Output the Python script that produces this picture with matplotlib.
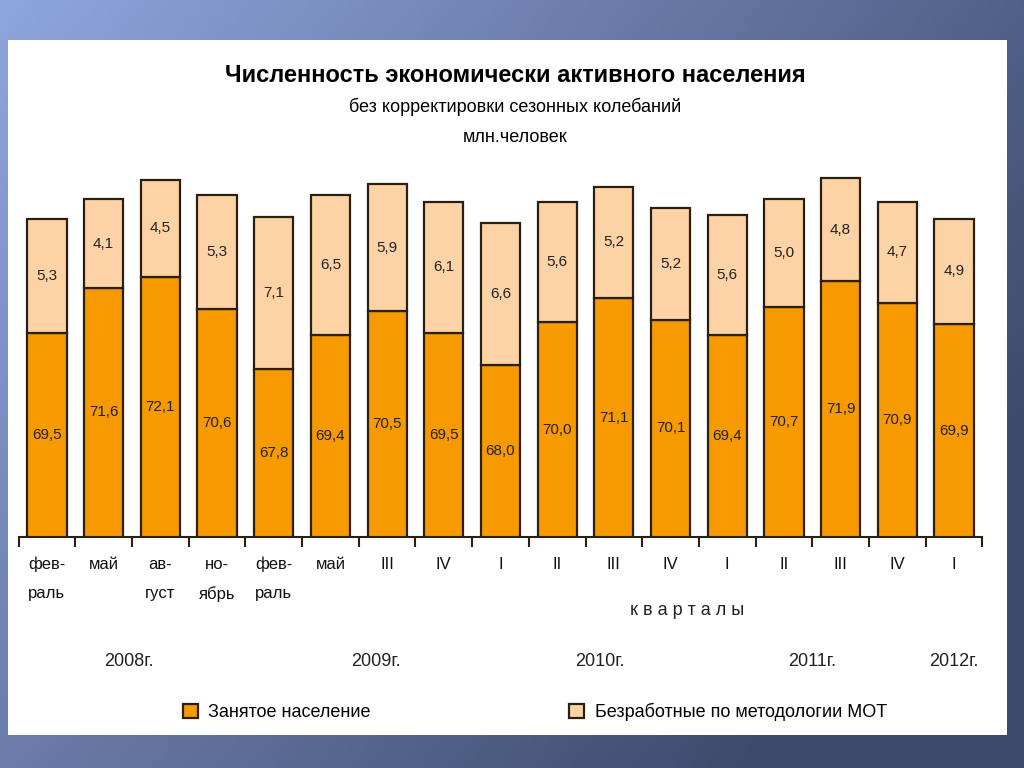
import numpy as np
import matplotlib.pyplot as plt
from matplotlib.patches import Rectangle

plt.rcParams['font.family'] = ['Liberation Sans Narrow', 'Liberation Sans', 'DejaVu Sans']

# data
labels_top = ['фев-', 'май', 'ав-', 'но-', 'фев-', 'май', 'III', 'IV', 'I',
              'II', 'III', 'IV', 'I', 'II', 'III', 'IV', 'I']
labels_bot = ['раль', '', 'густ', 'ябрь', 'раль', '', '', '', '',
              '', '', '', '', '', '', '', '']
employed = [69.5, 71.6, 72.1, 70.6, 67.8, 69.4, 70.5, 69.5, 68.0,
            70.0, 71.1, 70.1, 69.4, 70.7, 71.9, 70.9, 69.9]
unemployed = [5.3, 4.1, 4.5, 5.3, 7.1, 6.5, 5.9, 6.1, 6.6,
              5.6, 5.2, 5.2, 5.6, 5.0, 4.8, 4.7, 4.9]
years = ['2008г.', '2009г.', '2010г.', '2011г.', '2012г.']
year_pos = [1.45, 5.8, 9.75, 13.5, 16.0]

W, H = 1024, 768
fig = plt.figure(figsize=(W / 100, H / 100), dpi=100)

# slide background gradient
bg = fig.add_axes([0, 0, 1, 1])
yy, xx = np.mgrid[0:1:200j, 0:1:200j]
t = np.clip(0.75 * xx + 0.45 * yy, 0, 1)
c0 = np.array([0.56, 0.65, 0.87])
c1 = np.array([0.24, 0.29, 0.42])
img = c0[None, None, :] * (1 - t[..., None]) + c1[None, None, :] * t[..., None]
bg.imshow(img, extent=[0, 1, 0, 1], origin='upper', aspect='auto')
bg.set_xlim(0, 1)
bg.set_ylim(0, 1)
bg.axis('off')

# white panel
fig.patches.append(Rectangle((8 / W, 1 - 735 / H), 999 / W, 695 / H,
                             transform=fig.transFigure, facecolor='white',
                             edgecolor='none', zorder=1))

orange = '#F79A00'
peach = '#FDD3A6'
edge = '#2b2010'

x0, x1 = 18.6, 982.4
ytop, ybot = 171.5, 537
ax = fig.add_axes([x0 / W, 1 - ybot / H, (x1 - x0) / W, (ybot - ytop) / H])
ax.set_zorder(2)
ax.patch.set_alpha(0)

x = np.arange(len(employed))
emp = np.array(employed)
une = np.array(unemployed)
ax.bar(x, emp, width=0.69, color=orange, edgecolor=edge, linewidth=1.6,
       label='Занятое население')
ax.bar(x, une, bottom=emp, width=0.69, color=peach, edgecolor=edge,
       linewidth=1.6, label='Безработные по методологии МОТ')

ax.set_xlim(-0.5, len(x) - 0.5)
ax.set_ylim(60, 77)

for i in range(len(x)):
    ax.text(x[i], (60 + emp[i]) / 2, f'{emp[i]:.1f}'.replace('.', ','),
            ha='center', va='center', fontsize=11, color='#222222')
    ax.text(x[i], emp[i] + une[i] / 2, f'{une[i]:.1f}'.replace('.', ','),
            ha='center', va='center', fontsize=11, color='#222222')

for s in ['top', 'right', 'left']:
    ax.spines[s].set_visible(False)
ax.spines['bottom'].set_linewidth(1.5)
ax.spines['bottom'].set_color(edge)
ax.set_yticks([])
ax.set_xticks(np.arange(-0.5, len(x), 1.0))
ax.set_xticklabels([])
ax.tick_params(axis='x', direction='out', length=7, width=1.5, color=edge)

for i in range(len(x)):
    ax.text(x[i], -0.075, labels_top[i], transform=ax.get_xaxis_transform(),
            ha='center', va='center', fontsize=12, color='#111111')
    if labels_bot[i]:
        ax.text(x[i], -0.155, labels_bot[i], transform=ax.get_xaxis_transform(),
                ha='center', va='center', fontsize=12, color='#111111')

ax.text(11.3, -0.2, 'к в а р т а л ы', transform=ax.get_xaxis_transform(),
        ha='center', va='center', fontsize=13, color='#222222')
for yp, yl in zip(year_pos, years):
    ax.text(yp, -0.34, yl, transform=ax.get_xaxis_transform(),
            ha='center', va='center', fontsize=13, color='#222222')

fig.text(515 / W, 1 - 75 / H, 'Численность экономически активного населения',
         ha='center', va='center', fontsize=17, fontweight='bold', zorder=3)
fig.text(515 / W, 1 - 107 / H, 'без корректировки сезонных колебаний',
         ha='center', va='center', fontsize=13, zorder=3)
fig.text(515 / W, 1 - 138 / H, 'млн.человек',
         ha='center', va='center', fontsize=13, zorder=3)

leg = fig.legend(loc='center', bbox_to_anchor=(535 / W, 1 - 712 / H), ncol=2,
                 frameon=False, fontsize=13, handlelength=0.8, handleheight=0.8,
                 columnspacing=11, handletextpad=0.6)
leg.set_zorder(3)

fig.savefig('out.png', dpi=100)
